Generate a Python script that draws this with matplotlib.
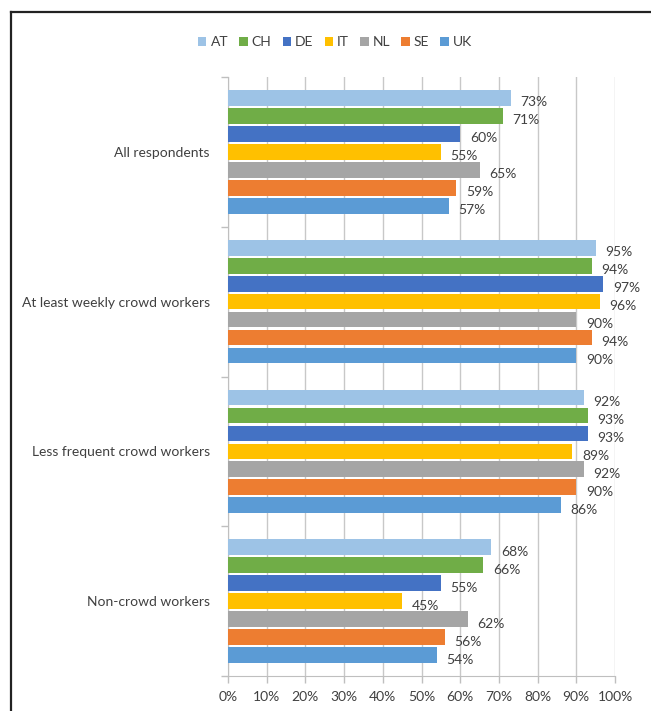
import numpy as np
import matplotlib.pyplot as plt
from matplotlib.patches import Patch
from matplotlib.lines import Line2D

plt.rcParams['font.family'] = ['Lato', 'DejaVu Sans']

categories = ['All respondents', 'At least weekly crowd workers',
              'Less frequent crowd workers', 'Non-crowd workers']
countries = ['AT', 'CH', 'DE', 'IT', 'NL', 'SE', 'UK']
AT = [73, 95, 92, 68]
CH = [71, 94, 93, 66]
DE = [60, 97, 93, 55]
IT = [55, 96, 89, 45]
NL = [65, 90, 92, 62]
SE = [59, 94, 90, 56]
UK = [57, 90, 86, 54]
series = [AT, CH, DE, IT, NL, SE, UK]
xticks = [0, 10, 20, 30, 40, 50, 60, 70, 80, 90, 100]

colours = ['#9dc3e6', '#70ad47', '#4472c4', '#ffc000', '#a5a5a5', '#ed7d31', '#5b9bd5']

fig = plt.figure(figsize=(6.51, 7.11), dpi=100)
ax = fig.add_axes([228/651, 1-676/711, (615-228)/651, (676-77)/711])

slot = 0.84/7
bh = 0.105
for i, vals in enumerate(series):
    ypos = np.arange(len(categories)) + 0.08 + slot*i + slot/2
    ax.barh(ypos, vals, height=bh, color=colours[i], zorder=3)
    for y, v in zip(ypos, vals):
        ax.text(v + 2.5, y + 0.03, f'{v}%', fontsize=10, color='#404040', va='center', ha='left', zorder=5)

ax.set_ylim(len(categories), 0)
ax.set_xlim(0, 100)
ax.set_xticks(xticks)
ax.set_xticklabels([f'{t}%' for t in xticks], fontsize=10, color='#404040')
ax.set_yticks(np.arange(len(categories)) + 0.5)
ax.set_yticklabels(categories, fontsize=10, color='#404040')
ax.tick_params(axis='y', length=0, pad=13)
ax.set_yticks(np.arange(len(categories)+1), minor=True)
ax.tick_params(axis='y', which='minor', length=5, color='#bfbfbf', width=1)
ax.tick_params(axis='x', length=5, color='#bfbfbf', width=1, pad=6)
ax.grid(axis='x', color='#c8c8c8', linewidth=1, zorder=0)
for s in ['top', 'right']:
    ax.spines[s].set_visible(False)
for s in ['left', 'bottom']:
    ax.spines[s].set_color('#bfbfbf')

handles = [Patch(facecolor=c, edgecolor='none') for c in colours]
fig.legend(handles, countries, loc='center', bbox_to_anchor=(335/651, 1-42/711), ncol=7,
           frameon=False, fontsize=10, handlelength=0.6, handleheight=0.6,
           handletextpad=0.3, columnspacing=0.8, labelcolor='#404040')

# black frame round the chart (cut at right and bottom)
fig.add_artist(Line2D([11/651, 11/651], [0, 1-12/711], color='#222222', linewidth=1.6, transform=fig.transFigure))
fig.add_artist(Line2D([11/651, 1], [1-12/711, 1-12/711], color='#222222', linewidth=1.6, transform=fig.transFigure))

fig.savefig('out.png', dpi=100)
